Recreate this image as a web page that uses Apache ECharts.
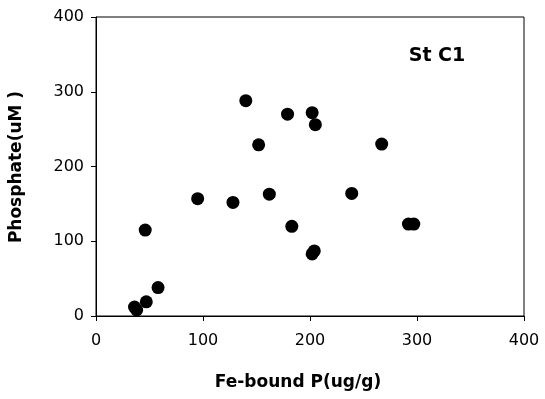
<!DOCTYPE html>
<html><head><meta charset="utf-8">
<script src="https://cdn.jsdelivr.net/npm/echarts@6/dist/echarts.min.js"></script>
<style>html,body{margin:0;padding:0;background:#fff}#c{width:545px;height:399px}</style>
</head><body><div id="c"></div>
<script>
const feBoundP = [36, 38, 47, 58, 46, 95, 128, 140, 152, 162, 179, 183, 202, 205, 202, 204, 239, 267, 292, 297];
const phosphate = [12, 8, 19, 38, 115, 157, 152, 288, 229, 163, 270, 120, 272, 256, 83, 87, 164, 230, 123, 123];
const xTicks = [0, 100, 200, 300, 400];
const yTicks = [0, 100, 200, 300, 400];
const stationLabel = 'St C1';
const xTitle = 'Fe-bound P(ug/g)';
const yTitle = 'Phosphate(uM )';

const chart = echarts.init(document.getElementById('c'), null, {renderer: 'canvas'});
const font = 'DejaVu Sans';
const axisCommon = {
  type: 'value', min: 0, max: 400, interval: 100,
  axisLine: {show: true, lineStyle: {color: '#000', width: 1}},
  axisTick: {show: true, inside: false, length: 5, lineStyle: {color: '#000'}},
  splitLine: {show: false},
  axisLabel: {color: '#000', fontFamily: font, fontSize: 16}
};
chart.setOption({
  animation: false,
  grid: {left: 96, right: 21, top: 17, bottom: 83, show: true, borderColor: '#000', borderWidth: 1},
  xAxis: Object.assign({}, axisCommon, {axisLabel: Object.assign({}, axisCommon.axisLabel, {margin: 17})}),
  yAxis: Object.assign({}, axisCommon, {axisLabel: Object.assign({}, axisCommon.axisLabel, {margin: 12})}),
  series: [{
    type: 'scatter',
    data: feBoundP.map((x, i) => [x, phosphate[i]]),
    symbol: 'circle', symbolSize: 13,
    itemStyle: {color: '#000', opacity: 1}
  }],
  graphic: [
    {type: 'text', x: 437, y: 56, style: {text: stationLabel, font: 'bold 19px "DejaVu Sans"', fill: '#000', align: 'center', verticalAlign: 'middle'}},
    {type: 'text', x: 298, y: 383, style: {text: xTitle, font: 'bold 17px "DejaVu Sans"', fill: '#000', align: 'center', verticalAlign: 'middle'}},
    {type: 'text', x: 17, y: 167, rotation: Math.PI / 2, style: {text: yTitle, font: 'bold 17px "DejaVu Sans"', fill: '#000', align: 'center', verticalAlign: 'middle'}}
  ]
});
</script></body></html>
